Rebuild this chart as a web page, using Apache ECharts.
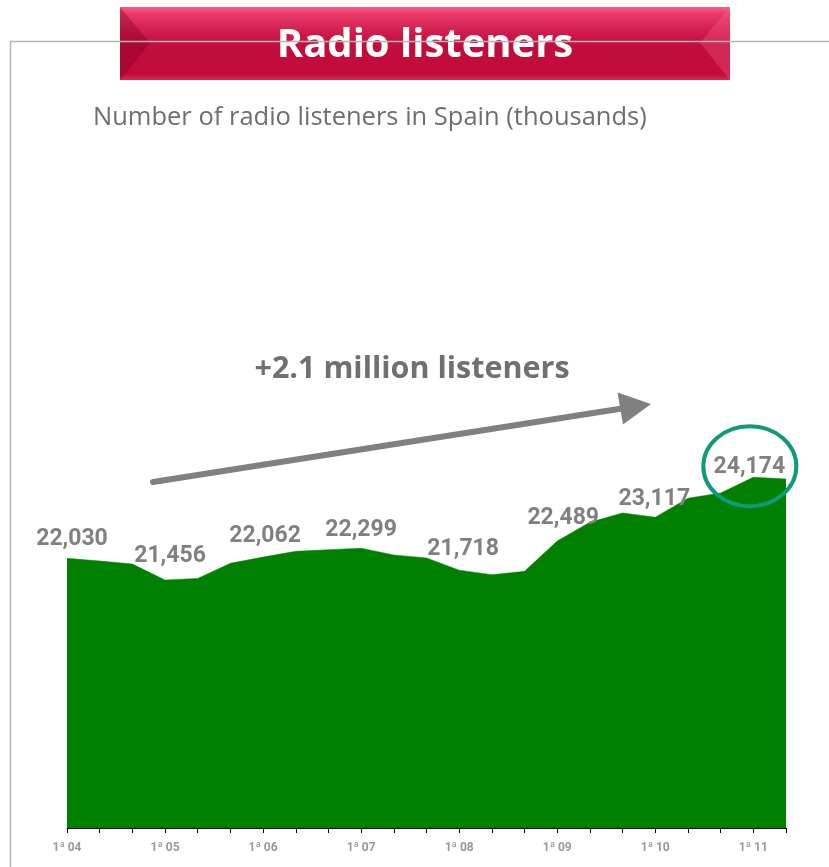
<!DOCTYPE html>
<html>
<head>
<meta charset="utf-8">
<title>Radio listeners</title>
<script src="https://cdn.jsdelivr.net/npm/echarts@6/dist/echarts.min.js"></script>
<style>
  html, body { margin: 0; padding: 0; background: #ffffff; }
  #chart { width: 829px; height: 867px; }
</style>
</head>
<body>
<div id="chart"></div>
<script>
// EGM survey waves (three per year), listeners in thousands
const waves = [
  '1ª 04', '2ª 04', '3ª 04',
  '1ª 05', '2ª 05', '3ª 05',
  '1ª 06', '2ª 06', '3ª 06',
  '1ª 07', '2ª 07', '3ª 07',
  '1ª 08', '2ª 08', '3ª 08',
  '1ª 09', '2ª 09', '3ª 09',
  '1ª 10', '2ª 10', '3ª 10',
  '1ª 11', '2ª 11'
];
const listeners = [
  22030, 21960, 21880,
  21456, 21500, 21900,
  22062, 22215, 22258,
  22299, 22117, 22040,
  21718, 21596, 21686,
  22489, 22983, 23229,
  23117, 23618, 23758,
  24174, 24128
];
const titleText = 'Radio listeners';
const subtitleText = 'Number of radio listeners in Spain (thousands)';
const growthText = '+2.1 million listeners';

// Value labels sit on the first wave of each year; small hand nudges [dx, dy]
const labelNudge = {
  0: [5, 0], 3: [5, -4], 6: [2, -1], 9: [0, 2],
  12: [4, -1], 15: [6, -3], 18: [-1, 2], 21: [-4, 10]
};

const fmt = v => v.toLocaleString('en-US');
const LABEL_FONT = 'Roboto, "Open Sans", sans-serif';

const seriesData = listeners.map((v, i) => {
  const nudge = labelNudge[i];
  if (!nudge) return { value: v };
  return {
    value: v,
    label: {
      show: true,
      position: 'top',
      distance: 8,
      offset: nudge,
      formatter: p => fmt(p.value),
      color: '#808080',
      fontFamily: LABEL_FONT,
      fontWeight: 'bold',
      fontSize: 23
    }
  };
});

const chart = echarts.init(document.getElementById('chart'), null, { renderer: 'canvas' });

const option = {
  backgroundColor: '#ffffff',
  animation: false,
  grid: { left: 67, right: 43, top: 446, bottom: 39, containLabel: false },
  xAxis: {
    type: 'category',
    data: waves,
    boundaryGap: false,
    axisLine: { show: true, lineStyle: { color: '#000000', width: 1 } },
    axisTick: { show: true, alignWithLabel: true, interval: 0, length: 5, lineStyle: { color: '#000000', width: 1 } },
    axisLabel: {
      interval: 2,
      margin: 14,
      color: '#999999',
      fontFamily: LABEL_FONT,
      fontWeight: 'bold',
      fontSize: 12
    },
    splitLine: { show: false }
  },
  yAxis: {
    type: 'value',
    min: 14900,
    max: 25000,
    show: false,
    splitLine: { show: false }
  },
  series: [{
    type: 'line',
    data: seriesData,
    showSymbol: true,
    symbol: 'circle',
    symbolSize: 0,
    itemStyle: { color: '#008000' },
    lineStyle: { color: '#008000', width: 0.5 },
    areaStyle: { color: '#008000', opacity: 1 },
    z: 2
  }],
  graphic: [
    // frame lines
    { type: 'line', shape: { x1: 10.5, y1: 41.5, x2: 829, y2: 41.5 }, style: { stroke: '#b4b4b4', lineWidth: 1.5 }, z: 1 },
    { type: 'line', shape: { x1: 10.5, y1: 41.5, x2: 10.5, y2: 867 }, style: { stroke: '#b4b4b4', lineWidth: 1.5 }, z: 1 },
    // banner
    {
      type: 'group', z: 10,
      children: [
        {
          type: 'rect',
          shape: { x: 120, y: 7, width: 610, height: 73 },
          style: {
            fill: new echarts.graphic.LinearGradient(0, 0, 0, 1, [
              { offset: 0, color: '#ff5a84' },
              { offset: 0.1, color: '#e8386a' },
              { offset: 0.4, color: '#cc1646' },
              { offset: 0.55, color: '#c20c3c' },
              { offset: 0.92, color: '#c20c3c' },
              { offset: 1, color: '#d42a56' }
            ])
          }
        },
        {
          type: 'polygon',
          shape: { points: [[120, 7], [150, 43], [120, 80]] },
          style: { fill: 'rgba(120,0,30,0.35)' }
        },
        {
          type: 'polygon',
          shape: { points: [[730, 7], [700, 43], [730, 80]] },
          style: { fill: 'rgba(255,120,150,0.25)' }
        },
        {
          type: 'text',
          style: {
            text: titleText,
            x: 425, y: 46,
            align: 'center', verticalAlign: 'middle',
            fill: '#ffffff',
            font: 'bold 40px "Open Sans", sans-serif'
          }
        }
      ]
    },
    // subtitle
    {
      type: 'text', z: 10,
      style: {
        text: subtitleText,
        x: 93, y: 118,
        align: 'left', verticalAlign: 'middle',
        fill: '#6e6e6e',
        font: '25.5px "Open Sans", sans-serif'
      }
    },
    // growth annotation
    {
      type: 'text', z: 10,
      style: {
        text: growthText,
        x: 412, y: 369,
        align: 'center', verticalAlign: 'middle',
        fill: '#707070',
        font: 'bold 30.5px "Open Sans", sans-serif'
      }
    },
    {
      type: 'line', z: 10,
      shape: { x1: 153, y1: 482, x2: 622, y2: 408.5 },
      style: { stroke: '#808080', lineWidth: 6, lineCap: 'round' }
    },
    {
      type: 'polygon', z: 10,
      shape: { points: [[617.5, 392.5], [651, 404], [623, 424.5]] },
      style: { fill: '#808080' }
    }
  ]
};

chart.setOption(option);

// Ring around the latest peak, anchored to its data point
const peakIdx = 21;
const peak = chart.convertToPixel({ seriesIndex: 0 }, [peakIdx, listeners[peakIdx]]);
chart.setOption({
  graphic: [{
    id: 'peakRing', type: 'ellipse', z: 20,
    shape: { cx: peak[0] - 3.5, cy: peak[1] - 11, rx: 46.5, ry: 40 },
    style: { fill: 'none', stroke: '#109a7a', lineWidth: 4 }
  }]
});
</script>
</body>
</html>
